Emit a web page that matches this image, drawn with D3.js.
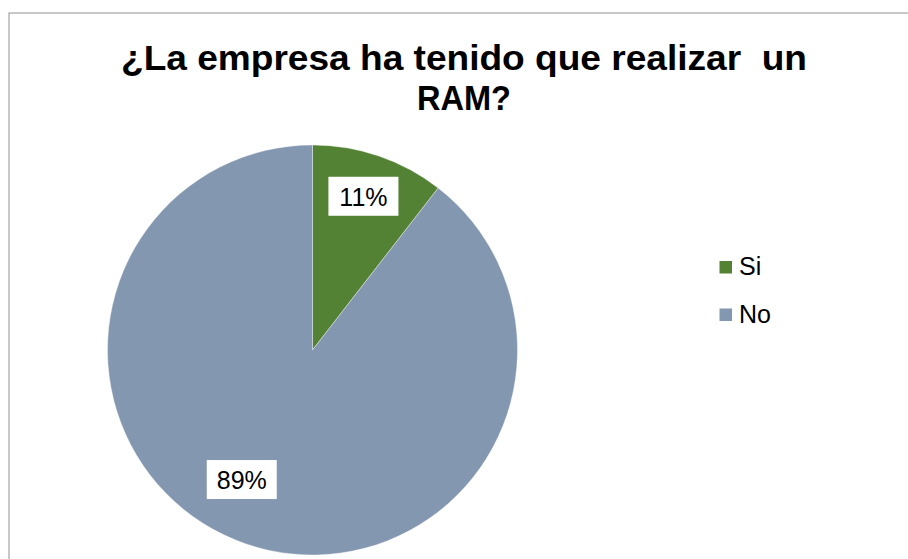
<!DOCTYPE html>
<html>
<head>
<meta charset="utf-8">
<script src="https://cdn.jsdelivr.net/npm/d3@7/dist/d3.min.js"></script>
<style>
  html, body { margin: 0; padding: 0; background: #fff; }
  svg { display: block; }
  text { font-family: "Liberation Sans", Arial, sans-serif; }
</style>
</head>
<body>
<svg id="chart" width="908" height="559"></svg>
<script>
// ---- data ----
const titleLines = ["¿La empresa ha tenido que realizar  un", "RAM?"];
const categories = ["Si", "No"];
const values = [10.5, 89.5];
const labels = ["11%", "89%"];
const colors = ["#548235", "#8497B0"];

// ---- layout ----
const W = 908, H = 559;
const svg = d3.select("#chart");

// chart border (extends past right/bottom edge like the reference)
svg.append("rect")
  .attr("x", 9).attr("y", 13)
  .attr("width", 1000).attr("height", 1000)
  .attr("fill", "#fff")
  .attr("stroke", "#ababab").attr("stroke-width", 1.3);

// title
const titleG = svg.append("g");
const titleBase = [69.5, 110];
const titleWidths = [686, 94];
titleLines.forEach((t, i) => {
  titleG.append("text")
    .attr("x", 464).attr("y", titleBase[i])
    .attr("text-anchor", "middle")
    .attr("font-size", 35)
    .attr("font-weight", "bold")
    .attr("fill", "#000")
    .attr("textLength", titleWidths[i])
    .attr("lengthAdjust", "spacingAndGlyphs")
    .style("white-space", "pre")
    .attr("xml:space", "preserve")
    .text(t);
});

// pie
const cx = 312.5, cy = 350, R = 205;
const pie = d3.pie().sort(null).value(d => d)(values);
const arc = d3.arc().innerRadius(0).outerRadius(R);
const g = svg.append("g").attr("transform", `translate(${cx},${cy})`);

g.selectAll("path.slice")
  .data(pie)
  .join("path")
  .attr("class", "slice")
  .attr("d", arc)
  .attr("fill", (d, i) => colors[i])
  .attr("stroke", "#ffffff")
  .attr("stroke-width", 0.6)
  .attr("stroke-opacity", 0.6);

// data labels (best-fit style placement)
const labelRadius = [0.79, 0.72];
const labelAngleShift = [-0.01, 0.17];
pie.forEach((d, i) => {
  const a = (d.startAngle + d.endAngle) / 2 + labelAngleShift[i];
  const r = R * labelRadius[i];
  const x = Math.sin(a) * r, y = -Math.cos(a) * r;
  const lg = g.append("g").attr("transform", `translate(${x},${y})`);
  lg.append("rect")
    .attr("x", -35).attr("y", -19.5)
    .attr("width", 70).attr("height", 39)
    .attr("fill", "#fff");
  lg.append("text")
    .attr("x", 0).attr("y", 9.5)
    .attr("text-anchor", "middle")
    .attr("font-size", 25)
    .attr("fill", "#000")
    .text(labels[i]);
});

// legend
const legend = svg.append("g").attr("transform", "translate(719.5,261)");
const legendY = d3.scalePoint().domain(categories).range([0, 47.5]);
categories.forEach((c, i) => {
  const y = legendY(c);
  legend.append("rect")
    .attr("x", 0).attr("y", y)
    .attr("width", 12.5).attr("height", 12.5)
    .attr("fill", colors[i]);
  legend.append("text")
    .attr("x", 19.5).attr("y", y + 14)
    .attr("font-size", 25)
    .attr("fill", "#000")
    .text(c);
});
</script>
</body>
</html>
